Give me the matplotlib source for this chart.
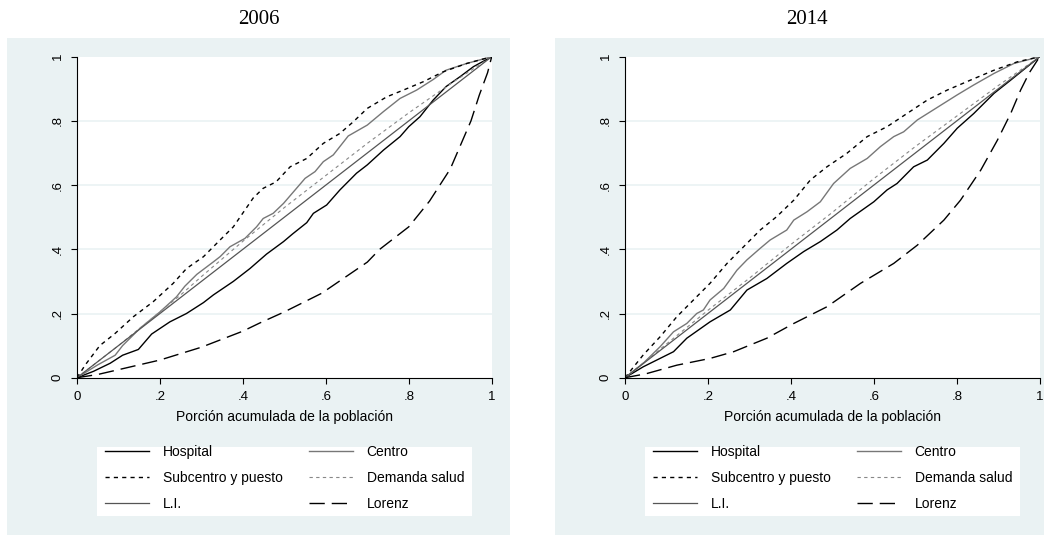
import matplotlib
matplotlib.use("Agg")
import matplotlib.pyplot as plt
from matplotlib.patches import Rectangle

plt.rcParams['font.family'] = ['Liberation Sans', 'DejaVu Sans']

ticks = [0, 0.2, 0.4, 0.6, 0.8, 1]
tick_labels = ['0', '.2', '.4', '.6', '.8', '1']
titles = ['2006', '2014']
xlabel = 'Porción acumulada de la población'

# ---- 2006 ----
hosp06_x = [0, .04, .08, .11, .148, .18, .224, .264, .305, .329, .377, .417, .457, .498, .52, .554, .57,
            .602, .634, .674, .70, .739, .779, .80, .827, .859, .89, .924, .956, 1]
hosp06_y = [0, .02, .045, .07, .088, .136, .174, .20, .234, .258, .30, .34, .385, .424, .448, .483, .512,
            .538, .585, .637, .663, .709, .751, .782, .813, .865, .907, .938, .969, 1]
cent06_x = [0, .05, .092, .11, .152, .2, .24, .26, .289, .329, .345, .369, .405, .433, .449, .473, .498,
            .522, .55, .574, .594, .618, .654, .70, .739, .779, .819, .859, .89, .94, 1]
cent06_y = [0, .04, .07, .10, .154, .205, .252, .285, .322, .361, .377, .408, .434, .47, .496, .512, .543,
            .579, .621, .642, .673, .694, .753, .787, .829, .87, .896, .929, .958, .979, 1]
sub06_x = [0, .02, .055, .092, .136, .184, .232, .264, .305, .345, .377, .425, .449, .48, .514, .554,
           .594, .634, .666, .70, .747, .787, .835, .883, .94, 1]
sub06_y = [0, .04, .10, .138, .19, .237, .294, .34, .377, .429, .47, .56, .59, .61, .657, .683,
           .73, .761, .797, .839, .875, .896, .922, .953, .979, 1]
dem06_x = [0, .1, .2, .25, .3, .4, .5, .6, .7, .8, .9, 1]
dem06_y = [0, .1, .205, .258, .315, .425, .53, .63, .73, .825, .915, 1]
lor06_x = [0, .05, .1, .2, .3, .4, .44, .5, .59, .7, .73, .8, .85, .9, .93, .95, .97, .99, 1]
lor06_y = [0, .01, .025, .055, .095, .145, .17, .205, .263, .36, .40, .47, .55, .65, .74, .80, .88, .95, 1]

# ---- 2014 ----
hosp14_x = [0, .044, .117, .149, .205, .254, .294, .342, .39, .431, .471, .511, .543, .60, .632, .656,
            .696, .729, .769, .801, .841, .89, .93, 1]
hosp14_y = [0, .034, .081, .123, .174, .211, .273, .309, .356, .393, .424, .46, .496, .548, .585, .605,
            .657, .678, .73, .777, .823, .886, .927, 1]
cent14_x = [0, .044, .085, .117, .149, .173, .189, .205, .238, .27, .294, .326, .35, .39, .407, .439, .471,
            .503, .543, .584, .616, .648, .672, .705, .737, .769, .801, .841, .89, .938, 1]
cent14_y = [0, .045, .097, .143, .169, .20, .211, .242, .278, .335, .367, .403, .429, .46, .491, .517, .548,
            .605, .652, .683, .72, .751, .766, .803, .829, .855, .881, .912, .948, .979, 1]
sub14_x = [0, .044, .085, .125, .165, .205, .246, .286, .326, .366, .407, .447, .487, .535, .584, .632,
           .68, .729, .777, .833, .89, .946, 1]
sub14_y = [0, .071, .128, .19, .242, .294, .356, .408, .46, .502, .553, .616, .657, .699, .751, .782,
           .823, .865, .896, .927, .958, .984, 1]
dem14_x = [0, .1, .2, .3, .4, .5, .6, .7, .8, .9, 1]
dem14_y = [0, .105, .21, .31, .415, .515, .62, .72, .815, .91, 1]
lor14_x = [0, .05, .125, .205, .262, .342, .407, .487, .568, .648, .705, .769, .809, .858, .898, .93, .954, .975, 1]
lor14_y = [0, .012, .039, .06, .081, .123, .169, .221, .294, .356, .413, .491, .553, .647, .74, .823, .896, .95, 1]

li_x = [0, 1]
li_y = [0, 1]

panels = [
    (hosp06_x, hosp06_y, cent06_x, cent06_y, sub06_x, sub06_y, dem06_x, dem06_y, lor06_x, lor06_y),
    (hosp14_x, hosp14_y, cent14_x, cent14_y, sub14_x, sub14_y, dem14_x, dem14_y, lor14_x, lor14_y),
]

bg = '#eaf2f3'
W, H = 1044, 535
fig = plt.figure(figsize=(W / 100, H / 100), dpi=100)

# panel backgrounds (pixel boxes -> figure fraction)
for x0, x1 in [(7, 510), (555, 1044)]:
    fig.add_artist(Rectangle((x0 / W, 0), (x1 - x0) / W, (H - 38) / H,
                             transform=fig.transFigure, facecolor=bg, edgecolor='none', zorder=-10))

ax_left = [77, 625]
title_x = [259, 807]
for i, data in enumerate(panels):
    hx, hy, cx, cy, sx, sy, dx, dy, lx, ly = data
    ax = fig.add_axes([ax_left[i] / W, (H - 377.7) / H, 414.7 / W, 321 / H])
    ax.set_facecolor('white')
    for yv in ticks[1:-1]:
        ax.axhline(yv, color=bg, lw=1.2, zorder=0)

    h_hosp, = ax.plot(hx, hy, color='black', lw=1.0, label='Hospital')
    h_cent, = ax.plot(cx, cy, color='#777777', lw=1.0, label='Centro')
    h_sub, = ax.plot(sx, sy, color='black', lw=1.0, dashes=(3, 3), label='Subcentro y puesto')
    h_dem, = ax.plot(dx, dy, color='#888888', lw=0.8, dashes=(3, 3), label='Demanda salud')
    h_li, = ax.plot(li_x, li_y, color='#555555', lw=0.9, label='L.I.')
    h_lor, = ax.plot(lx, ly, color='black', lw=1.0, dashes=(11, 5), label='Lorenz')

    ax.set_xlim(0, 1)
    ax.set_ylim(0, 1)
    for s in ['top', 'right']:
        ax.spines[s].set_visible(False)
    for s in ['left', 'bottom']:
        ax.spines[s].set_linewidth(0.8)
    ax.set_xticks(ticks)
    ax.set_xticklabels(tick_labels, fontsize=9.5)
    ax.set_yticks(ticks)
    ax.set_yticklabels(tick_labels, fontsize=9.5, rotation=90, va='center')
    ax.tick_params(length=4.5, width=0.8, pad=5)
    ax.set_xlabel(xlabel, fontsize=10, labelpad=5)

    fig.text(title_x[i] / W, 1 - 20 / H, titles[i], ha='center', va='center',
             fontsize=15, family=['Liberation Serif', 'DejaVu Serif'])

    # white legend box
    bx0 = ax_left[i] + 20
    fig.add_artist(Rectangle((bx0 / W, 1 - 516 / H), 375 / W, 69 / H,
                             transform=fig.transFigure, facecolor='white', edgecolor='none', zorder=-5))
    # row-wise order: column-major fill with ncol=2
    handles = [h_hosp, h_sub, h_li, h_cent, h_dem, h_lor]
    ax.legend(handles=handles, loc='center', ncol=2, fontsize=10, frameon=False,
              bbox_to_anchor=((bx0 + 187.5) / W, 1 - 478 / H),
              bbox_transform=fig.transFigure, borderpad=0,
              handlelength=3.2, handletextpad=0.95, columnspacing=1.9,
              labelspacing=0.85)

fig.savefig('out.png', dpi=100)
